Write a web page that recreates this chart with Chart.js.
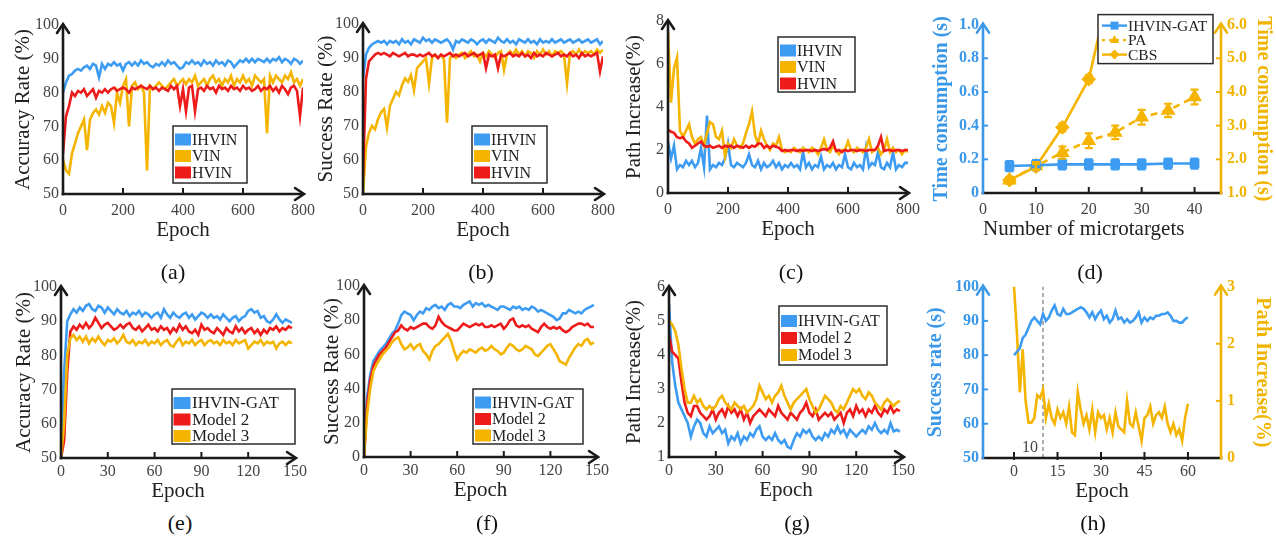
<!DOCTYPE html>
<html><head><meta charset="utf-8">
<script src="https://cdn.jsdelivr.net/npm/chart.js@4.4.1/dist/chart.umd.min.js"></script>
<style>
html,body{margin:0;padding:0;background:#fff;}
#fig{position:relative;width:1276px;height:538px;overflow:hidden;background:#fff;font-family:"Liberation Serif","Times New Roman",serif;}
#fig canvas{position:absolute;}
.cap{position:absolute;font-size:22px;color:#111;transform:translate(-50%,-50%);white-space:nowrap;z-index:5;}
</style></head><body><div id="fig">
<div class="cap" style="left:173px;top:272px">(a)</div>
<div class="cap" style="left:481px;top:272px">(b)</div>
<div class="cap" style="left:791px;top:272px">(c)</div>
<div class="cap" style="left:1090px;top:272px">(d)</div>
<div class="cap" style="left:180px;top:523px">(e)</div>
<div class="cap" style="left:487px;top:523px">(f)</div>
<div class="cap" style="left:797px;top:523px">(g)</div>
<div class="cap" style="left:1093px;top:523px">(h)</div>
</div>
<script>
// ---------------- DATA ----------------
const E800 = [0,10,20,30,40,50,60,70,80,90,
 100,110,120,130,140,150,160,170,180,190,
 200,210,220,230,240,250,260,270,280,290,
 300,310,320,330,340,350,360,370,380,390,
 400,410,420,430,440,450,460,470,480,490,
 500,510,520,530,540,550,560,570,580,590,
 600,610,620,630,640,650,660,670,680,690,
 700,710,720,730,740,750,760,770,780,790,
 800];
const A_IHVIN = [80,83,85,85.5,86.5,87,86.5,87.5,88,87,
 88.5,88,84.5,88.5,87,88.5,88,89,88,88.5,
 86.5,88.5,89,88,89,88,89.5,88.5,89,88,
 87.5,88.5,88,89,88,89.5,88.5,89,88,87,
 87.5,89,88.5,89.5,88.5,89,88,89.5,88.5,89,
 88,89.5,88.5,89,88,89.5,89,87.5,88.5,89.5,
 89,90,89,90,89,90,89.5,89,90,89,
 90,89.5,90.5,89,90,89.5,88.5,90,89.5,88.5,
 89.5];
const A_VIN = [60,57,56,62,65,68,70,72,63,72,
 74,75,73.5,76,74,77,76,71,80,77,
 82,84,70,82,83,81,82,80,57,82,
 81,82,83,82,81,82,83,84,82,83,
 84,82.5,84,83,85,82,83,84,82,84,
 85,83,84,82,84,83,85,82,84,83,
 85,83,84,82,85,84,83,84,68,85,
 83,85,84,83,85,84,86,83,84,82,
 84];
const A_HVIN = [62,73,76,80,79,80.5,80,81,79,80,
 81,78.5,80.5,80,81,80,81,81.5,80.5,81,
 81.5,81,80,81.5,81,81.5,82,81.5,81,82,
 81,81.5,80.5,81.5,81,80.5,82,81,82,76,
 81,74.5,81.5,82,74.5,81,81.5,80.5,82,81,
 81.5,80,82,81,81.5,80.5,82,81,81.5,80.5,
 82,81,81.5,80.5,81,82,80.5,81.5,81,82,
 80.5,81.5,80,82,81,79.5,81.5,82,80.5,73,
 81.5];
const B_IHVIN = [84,91,93,94,94.5,95,94.5,95,94,95,
 94.5,95,94,95.5,94.5,95,94,95.5,95,94.5,
 96,95,95.5,94.5,95.5,95,94.5,95,95.5,94.5,
 92.5,95,94.5,95.5,95,94.5,95.5,95,94,95,
 95.5,94.5,95.5,95,94.5,96,95,94.5,95.5,94.5,
 95,94,95.5,95,94.5,95.5,94.5,95,94,95.5,
 94.5,95,94.5,95.5,94.5,95,95.5,94.5,95,95.5,
 94.5,95,95.5,94.5,95,95.5,94.5,95,95.5,94,
 95];
const B_VIN = [50,64,68,70,69,72,74,75,69.5,76,
 78,80,79,82,84,83,85,80.5,87,88,
 89,90,82.5,90,91,90,91,89.5,71,90,
 91,90,91,91.5,90,91,92,90.5,91,89,
 91.5,90.5,92,91,90,91.5,92,86.5,91,92,
 91,92.5,91,92,90.5,92,91.5,90,92,91,
 92.5,91,92,90.5,92,91.5,92,91,82.5,91.5,
 92,91,92.5,91,92,91.5,92,91,92.5,91.5,
 92.5];
const B_HVIN = [55,84,89,90,91,91.5,91,91.5,91,90.5,
 91.5,91,90.5,91,91.5,90.5,91,91,90.5,91,
 90.5,91,91.5,90.5,91,90,91,90.5,91,91.5,
 90.5,91,90.5,91,91.5,90.5,91,91.5,90.5,91,
 91.5,87,91,90.5,91,87,91,90.5,91,91.5,
 90.5,91,90.5,91.5,90.5,91,90,91.5,90.5,91,
 90.5,91.5,91,90.5,91,91.5,90.5,91,90.5,91.5,
 90.5,91,90,91.5,90.5,91,90.5,91,91.5,86,
 90.5];
const C_IHVIN = [2.4,1.6,2.2,1.1,1.3,1.2,1.5,1.3,1.5,1.2,
 1.4,2.1,1.2,3.6,1.1,1.3,1.2,1.4,1.3,1.6,
 2.3,1.3,1.2,1.4,1.3,1.2,1.4,1.8,1.3,1.2,
 1.5,1.1,1.4,1.2,1.3,1.5,1.2,1.4,1.1,1.3,
 1.2,1.4,1.2,1.3,1.1,1.9,1.2,1.4,1.1,1.3,
 1.2,1.7,1.1,1.3,1.2,1.4,1.1,1.3,1.2,1.8,
 1.2,1.1,1.4,1.2,1.3,1.1,2.1,1.2,1.4,1.3,
 1.9,1.2,1.1,1.4,1.2,1.9,1.1,1.3,1.2,1.4,
 1.4];
const C_VIN = [7.5,4.2,5.8,6.3,2.9,2.6,2.9,3.2,2.6,2.3,
 2.5,2.6,2.2,2.8,3.3,3.2,2.6,2.5,2.9,1.7,
 2.3,2.1,2.5,2.2,2.1,2.3,2.8,3.2,3.8,2.7,
 2.3,2.9,2.5,2.2,2.0,2.3,2.2,2.6,2.0,1.9,
 2.0,1.9,2.1,2.0,1.9,2.1,2.0,1.9,2.1,2.0,
 1.8,2.1,2.5,2.0,1.9,2.2,2.0,1.8,2.0,2.0,
 2.4,2.0,1.9,2.1,2.0,1.9,2.1,2.5,1.9,2.0,
 2.1,1.8,2.0,2.5,1.9,2.1,1.9,2.0,1.8,2.0,
 1.9];
const C_HVIN = [2.95,2.85,2.8,2.6,2.55,2.6,2.4,2.3,2.1,2.2,
 2.3,2.4,2.2,2.15,2.2,2.1,2.15,2.2,2.1,2.2,
 2.15,2.2,2.1,2.2,2.15,2.1,2.2,2.1,2.2,2.15,
 2.3,2.3,2.1,2.2,2.1,2.2,2.15,2.1,1.95,2.0,
 1.95,2.0,2.0,1.95,2.0,1.95,2.0,2.0,1.95,2.0,
 1.95,2.0,2.05,2.0,2.1,2.4,1.95,2.0,1.9,2.0,
 1.95,2.0,2.0,1.95,2.0,2.0,1.95,2.0,2.0,2.0,
 2.2,2.6,1.95,2.0,2.0,1.95,2.0,2.0,1.95,2.0,
 2.0];

const D_X = [5,10,15,20,25,30,35,40];
const D_GAT = [0.16,0.165,0.17,0.17,0.17,0.17,0.175,0.175];
const D_GAT_ERR = [0.03,0.03,0.03,0.03,0.03,0.03,0.03,0.03];
const D_PA = [1.38,1.8,2.2,2.55,2.8,3.25,3.45,3.85];
const D_PA_ERR = [0.1,0.12,0.18,0.22,0.2,0.22,0.2,0.22];
const D_CBS = [1.38,1.78,2.95,4.38,7.8,null,null,null];
const D_CBS_ERR = [0.08,0.08,0.12,0.12,0,null,null,null];

const E150 = [0,2,4,6,8,10,12,14,16,18,
 20,22,24,26,28,30,32,34,36,38,
 40,42,44,46,48,50,52,54,56,58,
 60,62,64,66,68,70,72,74,76,78,
 80,82,84,86,88,90,92,94,96,98,
 100,102,104,106,108,110,112,114,116,118,
 120,122,124,126,128,130,132,134,136,138,
 140,142,144,146,148];
const E_GAT = [50,75,90,92,93.5,92.5,94,93,94.5,95,
 93.5,93,94.5,94,92.5,94,93,92,93.5,92.5,
 92,93,91.5,92.5,92,93,91.5,92.5,92,91,
 92,92.5,91,93.5,92,91,92.5,91.5,91,92,
 92.5,91,92,90.5,91.5,92.5,92,91,92,91,
 91.5,90.5,92,91,90,91,91.5,90,91,91.5,
 93,93.5,92.5,93,91,91.5,90,89.5,90.5,92,
 90.5,89.5,90.5,90,89.5];
const E_M2 = [50,55,75,87,88.5,87.5,89,88,89.5,88,
 89,91,89.5,88,89,89.5,88.5,87.5,88,89,
 88,89,89.5,88,87.5,88.5,87,88,89,87.5,
 88,87,88.5,87.5,88,86.5,88,87,89,87.5,
 88.5,87,86.5,87.5,86,89,87.5,88,87,86.5,
 88,87,86,88,87,86.5,88.5,87,88,86.5,
 87.5,88,86.5,87.5,86,87.5,86.5,88,87.5,88.5,
 87,88,87.5,88.5,88];
const E_M3 = [50,60,80,85,86,84.5,85.5,84,85.5,83.5,
 85,84,85.5,84,83,84.5,84,85,83.5,84.5,
 86,84,83.5,84.5,83,84,83.5,84.5,83,84,
 83.5,84.5,83,84,84.5,83,82.5,84,85,83,
 84,83.5,84.5,83,84,84.5,83,84,84.5,83.5,
 84,83,84.5,83.5,84,83,84.5,83.5,84,84.5,
 82,83,84,83.5,84.5,83,84,83.5,84,82,
 83.5,84,83,84,83.5];
const F_GAT = [0,35,48,56,59,62,64,66,69,72,
 74,78,83,85,84,83,80,83,85,84,
 87,86,88,89,87,88,86,89,90,88,
 88,87,89,90,91,88,90,89,90,88,
 89,88,87,86,88,88,87,86,88,87,
 88,86,87,86,88,87,85,86,85,84,
 83,82,80,81,84,84,86,85,84,85,
 84,86,87,88,89];
const F_M2 = [0,30,45,53,57,60,62,64,67,70,
 73,74,77,75,74,76,75,76,77,78,
 78,76,75,77,82,79,77,76,75,74,
 74,76,78,77,76,77,78,77,78,76,
 76,77,76,77,78,75,77,80,81,77,
 76,77,76,77,75,74,73,76,78,76,
 75,76,75,76,74,73,74,76,77,78,
 78,77,78,76,76];
const F_M3 = [0,25,40,50,54,57,60,62,64,67,
 69,70,66,63,64,66,63,65,66,62,
 60,57,62,65,66,68,70,72,68,62,
 57,60,62,61,63,62,61,63,64,62,
 63,65,63,62,60,61,64,66,65,63,
 62,63,65,64,63,60,59,61,63,65,
 66,63,60,56,55,54,58,61,64,66,
 65,68,69,66,67];
const G_GAT = [5.5,3.8,3.1,2.6,2.4,2.2,2.0,1.6,1.9,2.1,
 2.0,1.7,1.6,1.9,1.7,1.8,1.9,1.7,1.8,1.4,
 1.6,1.5,1.7,1.4,1.6,1.5,1.7,1.6,1.8,1.9,
 1.6,1.5,1.6,1.5,1.7,1.5,1.4,1.5,1.3,1.25,
 1.5,1.7,1.6,1.8,1.7,1.8,1.6,1.5,1.6,1.5,
 1.7,1.6,1.8,1.7,1.9,1.7,1.8,1.6,1.8,1.7,
 1.6,1.7,1.8,1.7,1.9,1.8,2.0,1.8,1.7,1.8,
 1.7,2.0,1.75,1.8,1.75];
const G_M2 = [4.6,4.1,4.0,3.9,3.2,2.6,2.3,2.2,2.5,2.5,
 2.3,2.2,2.1,2.2,2.4,2.1,2.3,2.4,2.2,2.5,
 2.3,2.4,2.2,2.4,2.1,2.3,2.0,2.2,2.3,2.4,
 2.3,2.2,2.4,2.3,2.2,2.5,2.3,2.2,2.1,2.3,
 2.2,2.1,2.3,2.4,2.6,2.3,2.2,2.4,2.1,2.2,
 2.3,2.2,2.3,2.1,2.2,2.3,2.0,2.3,2.4,2.2,
 2.5,2.3,2.4,2.2,2.4,2.3,2.5,2.3,2.2,2.4,
 2.3,2.5,2.3,2.4,2.35];
const G_M3 = [5.0,4.9,4.7,4.3,3.6,3.0,2.6,2.6,2.8,2.6,
 2.7,2.5,2.4,2.5,2.4,2.5,2.7,2.8,2.6,2.5,
 2.4,2.6,2.5,2.4,2.5,2.3,2.4,2.5,2.7,3.1,
 2.9,2.7,2.8,2.6,2.8,2.9,3.1,2.8,2.6,2.4,
 2.6,2.7,2.8,2.9,3.0,2.7,2.5,2.3,2.4,2.6,
 2.8,2.7,2.6,2.4,2.3,2.5,2.4,2.6,2.8,3.0,
 2.9,3.0,2.8,2.7,2.9,2.8,2.6,2.5,2.4,2.6,
 2.7,2.6,2.5,2.6,2.65];

const H_X = [0,1,2,3,4,5,6,7,8,9,10,11,12,13,14,15,16,17,18,19,
 20,21,22,23,24,25,26,27,28,29,30,31,32,33,34,35,36,37,38,39,
 40,41,42,43,44,45,46,47,48,49,50,51,52,53,54,55,56,57,58,59,60];
const H_SR = [80,81,82,85,86,88,90,91,90,89,
 92,90,91,93,94.5,92,91.5,93.5,92,92,
 92.5,93,93.5,94,93.5,92.5,91,92.5,90.5,92,
 93,90.5,91.5,89.5,90.5,93,90.5,91,89.5,90.5,
 89.5,90,91,92.5,89.5,91,90,91,90.5,91.5,
 91.5,92,92,92.5,91.5,90,90,89.5,89.5,90.5,
 91];
const H_PI = [3.0,2.2,1.15,1.9,1.0,0.62,0.62,0.7,1.1,1.05,
 1.2,0.7,0.95,0.7,0.6,0.85,0.7,0.8,0.6,0.9,
 0.45,0.4,1.15,0.85,0.6,0.75,0.5,0.85,0.45,0.8,
 0.7,0.75,0.5,0.7,0.45,0.8,0.55,0.5,0.45,1.0,
 0.6,0.55,0.8,0.55,0.3,0.7,0.75,0.9,0.6,0.75,
 0.8,0.7,0.9,0.6,0.45,0.6,0.4,0.5,0.3,0.7,
 0.95];
const H_MARK_X = [10,10];
const H_MARK_Y = [50,100];

// ---------------- STYLE ----------------
const BLUE = '#3d9cf2', YEL = '#f4b400', RED = '#ee1b1b';
const AXBLUE = '#3b98e8', AXYEL = '#f0b400', DARK = '#1a1a1a';
const SERIF = '"Liberation Serif","Times New Roman",serif';
Chart.defaults.font.family = SERIF;
Chart.defaults.color = '#444';

function pts(xs, ys){ return xs.map((x,i)=>({x:x, y:ys[i]})); }
function lineDs(label, xs, ys, color, extra){
  return Object.assign({label:label, data:pts(xs,ys), borderColor:color, backgroundColor:color,
    borderWidth:2.6, pointRadius:0, tension:0, fill:false, spanGaps:false}, extra||{});
}

function chevron(ctx, x, y, dir, color){
  ctx.save(); ctx.strokeStyle=color; ctx.lineWidth=2.6; ctx.lineCap='round'; ctx.lineJoin='miter';
  ctx.beginPath();
  if(dir==='up'){ ctx.moveTo(x-6,y+8); ctx.lineTo(x,y-1); ctx.lineTo(x+6,y+8); }
  else { ctx.moveTo(x-8,y-6); ctx.lineTo(x+1,y); ctx.lineTo(x-8,y+6); }
  ctx.stroke(); ctx.restore();
}
function marker(ctx, style, x, y, r, color){
  ctx.save(); ctx.fillStyle=color; ctx.beginPath();
  if(style==='rect'){ ctx.rect(x-r*0.8,y-r*0.8,r*1.6,r*1.6); }
  else if(style==='triangle'){ ctx.moveTo(x,y-r); ctx.lineTo(x+r*0.9,y+r*0.6); ctx.lineTo(x-r*0.9,y+r*0.6); ctx.closePath(); }
  else { ctx.moveTo(x,y-r); ctx.lineTo(x+r,y); ctx.lineTo(x,y+r); ctx.lineTo(x-r,y); ctx.closePath(); }
  ctx.fill(); ctx.restore();
}
function drawLegend(chart, L){
  const ctx=chart.ctx, ca=chart.chartArea;
  const x0=ca.left+L.x, y0=ca.top+L.y;
  ctx.save();
  ctx.fillStyle='#fff'; ctx.fillRect(x0,y0,L.w,L.h);
  ctx.lineWidth=1.5; ctx.strokeStyle='#2b2b2b'; ctx.strokeRect(x0,y0,L.w,L.h);
  ctx.font=L.fs+'px '+SERIF; ctx.textBaseline='middle'; ctx.textAlign='left';
  const items=chart.data.datasets.filter(d=>d.label);
  items.forEach((d,i)=>{
    const cy=y0+L.first+i*L.gap;
    if(L.lines){
      const xL=x0+L.sx, xR=x0+L.sx+L.sw;
      ctx.strokeStyle=d.borderColor; ctx.lineWidth=2.4; ctx.setLineDash(d.legendDash||d.borderDash||[]);
      ctx.beginPath(); ctx.moveTo(xL,cy); ctx.lineTo(xR,cy); ctx.stroke(); ctx.setLineDash([]);
      marker(ctx, d.pointStyle, (xL+xR)/2, cy, 5, d.borderColor);
    } else {
      ctx.fillStyle=d.borderColor; ctx.fillRect(x0+L.sx, cy-L.sh/2, L.sw, L.sh);
    }
    ctx.fillStyle='#222'; ctx.fillText(d.label, x0+L.tx, cy+1);
  });
  ctx.restore();
}

const paperPlugin = {
  id:'paper',
  afterDraw(chart){
    const o=chart.options.plugins.paper||{};
    const ctx=chart.ctx, ca=chart.chartArea;
    chart.data.datasets.forEach((ds,i)=>{
      if(!ds.errors) return;
      const meta=chart.getDatasetMeta(i);
      const ys=chart.scales[ds.yAxisID||'y'];
      ctx.save(); ctx.strokeStyle=ds.borderColor; ctx.lineWidth=2.2;
      meta.data.forEach((pt,j)=>{
        const e=ds.errors[j], v=ds.data[j].y;
        if(e==null||v==null||!e) return;
        const y1=ys.getPixelForValue(v+e), y2=ys.getPixelForValue(v-e);
        ctx.beginPath();
        ctx.moveTo(pt.x,y1); ctx.lineTo(pt.x,y2);
        ctx.moveTo(pt.x-4,y1); ctx.lineTo(pt.x+4,y1);
        ctx.moveTo(pt.x-4,y2); ctx.lineTo(pt.x+4,y2);
        ctx.stroke();
      });
      ctx.restore();
    });
    const ax=o.axes||{};
    ctx.save(); ctx.lineCap='butt';
    ctx.strokeStyle=ax.x||DARK; ctx.lineWidth=2.6;
    ctx.beginPath(); ctx.moveTo(ca.left-1.3, ca.bottom); ctx.lineTo(ca.right+(ax.right?1.3:0), ca.bottom); ctx.stroke();
    if(ax.xArrow) chevron(ctx, ca.right, ca.bottom, 'right', ax.x||DARK);
    const xs=chart.scales.x;
    ctx.lineWidth=2;
    xs.ticks.forEach(tk=>{
      if(tk.value<=xs.min||tk.value>=xs.max) return;
      const px=xs.getPixelForValue(tk.value);
      ctx.beginPath(); ctx.moveTo(px,ca.bottom+(ax.tickBelow||0)); ctx.lineTo(px,ca.bottom-6); ctx.stroke();
    });
    ctx.strokeStyle=ax.left||DARK; ctx.lineWidth=2.6;
    ctx.beginPath(); ctx.moveTo(ca.left, ca.bottom+1.3); ctx.lineTo(ca.left, ca.top); ctx.stroke();
    chevron(ctx, ca.left, ca.top, 'up', ax.left||DARK);
    if(ax.yTicks){
      const ys=chart.scales.y; ctx.lineWidth=2;
      ys.ticks.forEach(tk=>{ if(tk.value<=ys.min||tk.value>=ys.max) return;
        const py=ys.getPixelForValue(tk.value); ctx.beginPath(); ctx.moveTo(ca.left,py); ctx.lineTo(ca.left+5,py); ctx.stroke(); });
    }
    if(ax.right){
      ctx.strokeStyle=ax.right; ctx.lineWidth=2.6;
      ctx.beginPath(); ctx.moveTo(ca.right, ca.bottom+1.3); ctx.lineTo(ca.right, ca.top); ctx.stroke();
      chevron(ctx, ca.right, ca.top, 'up', ax.right);
      const ys=chart.scales.y1; ctx.lineWidth=2;
      ys.ticks.forEach(tk=>{ if(tk.value<=ys.min||tk.value>=ys.max) return;
        const py=ys.getPixelForValue(tk.value); ctx.beginPath(); ctx.moveTo(ca.right,py); ctx.lineTo(ca.right-5,py); ctx.stroke(); });
    }
    ctx.restore();
    if(o.legend) drawLegend(chart, o.legend);
    (o.notes||[]).forEach(n=>{
      const px=chart.scales.x.getPixelForValue(n.x)+n.dx;
      const py=chart.scales[n.axis].getPixelForValue(n.y);
      ctx.save(); ctx.font=n.size+'px '+SERIF; ctx.fillStyle=n.color; ctx.textAlign='center'; ctx.textBaseline='middle';
      ctx.fillText(n.text, px, py); ctx.restore();
    });
  }
};
Chart.register(paperPlugin);

const fig=document.getElementById('fig');
function yScale(c, pos, width){
  const s={ type:'linear', position:pos, min:c.min, max:c.max,
    grid:{display:false, drawTicks:false}, border:{display:false},
    ticks:{stepSize:c.step, padding:c.pad||4, font:{size:16, weight:c.bold?'bold':'normal'}, color:c.tickColor||'#444'},
    title:{display:true, text:c.title, color:c.titleColor||'#222', font:{size:c.tsize||21, weight:c.bold?'bold':'normal'}, padding:{top:c.tpad, bottom:0}},
    afterFit:(sc)=>{ sc.width=width; } };
  if(c.fmt) s.ticks.callback=c.fmt;
  return s;
}
function makePanel(p){
  const l=p.area[0], t=p.area[1], r=p.area[2], b=p.area[3];
  const top=p.row==='top';
  const leftW=60, rightW=p.y1?55:25, topPad=14, bottomH=top?53:50;
  const W=(r-l)+leftW+rightW, H=(b-t)+topPad+bottomH;
  const cv=document.createElement('canvas');
  cv.width=W; cv.height=H;
  cv.style.left=(l-leftW)+'px'; cv.style.top=(t-topPad)+'px';
  cv.style.width=W+'px'; cv.style.height=H+'px';
  fig.appendChild(cv);
  const scales={
    x:{ type:'linear', min:p.x.min, max:p.x.max,
      grid:{display:false, drawTicks:false}, border:{display:false},
      ticks:{stepSize:p.x.step, padding:top?7:4, font:{size:16}, color:'#444', maxRotation:0, autoSkip:false},
      title:{display:true, text:p.x.title, align:p.x.align||'center', color:'#222', font:{size:21}, padding:{top:0,bottom:4}},
      afterFit:(sc)=>{ sc.height=bottomH; } },
    y: yScale(p.y,'left',leftW)
  };
  if(p.x.ticks){ const tv=p.x.ticks; scales.x.afterBuildTicks=(sc)=>{ sc.ticks=tv.map(v=>({value:v})); }; }
  if(p.y1) scales.y1=yScale(p.y1,'right',rightW);
  const n=p.datasets.length;
  p.datasets.forEach((d,i)=>{ if(d.order==null) d.order=n-i; });
  new Chart(cv,{ type:'line', data:{datasets:p.datasets},
    options:{ responsive:false, animation:false, devicePixelRatio:1,
      layout:{padding:{left:0, top:topPad, right:p.y1?0:rightW, bottom:0}},
      scales:scales,
      plugins:{ legend:{display:false}, tooltip:{enabled:false},
        paper:{ axes:p.axes, legend:p.legend, notes:p.notes } } } });
}

const sqLeg=(x,y,w,h,fs)=>({x:x,y:y,w:w,h:h,fs:fs||16,first:13.5,gap:16.5,sx:2,sw:16,sh:12,tx:19});

// (a)
makePanel({ row:'top', area:[63,25,303,194],
  x:{min:0,max:800,step:200,title:'Epoch'},
  y:{min:50,max:100,step:10,title:'Accuracy Rate (%)',tpad:8},
  axes:{xArrow:true},
  legend:sqLeg(110,101,74,57),
  datasets:[lineDs('IHVIN',E800,A_IHVIN,BLUE), lineDs('VIN',E800,A_VIN,YEL), lineDs('HVIN',E800,A_HVIN,RED)] });
// (b)
makePanel({ row:'top', area:[363,24,603,194],
  x:{min:0,max:800,step:200,title:'Epoch'},
  y:{min:50,max:100,step:10,title:'Success Rate (%)',tpad:11},
  axes:{xArrow:true},
  legend:sqLeg(109,102,75,57),
  datasets:[lineDs('IHVIN',E800,B_IHVIN,BLUE), lineDs('VIN',E800,B_VIN,YEL), lineDs('HVIN',E800,B_HVIN,RED)] });
// (c)
makePanel({ row:'top', area:[668,21,908,193],
  x:{min:0,max:800,step:200,title:'Epoch'},
  y:{min:0,max:8,step:2,title:'Path Increase(%)',tpad:14},
  axes:{xArrow:true},
  legend:sqLeg(110,16,77,55),
  datasets:[lineDs('IHVIN',E800,C_IHVIN,BLUE), lineDs('VIN',E800,C_VIN,YEL), lineDs('HVIN',E800,C_HVIN,RED)] });
// (d)
makePanel({ row:'top', area:[983,23,1221,193],
  x:{min:0,max:45,title:'Number of microtargets',align:'start',ticks:[0,10,20,30,40]},
  y:{min:0,max:1,step:0.2,title:'Time consumption (s)',tpad:7,bold:true,tsize:20,tickColor:AXBLUE,titleColor:AXBLUE,fmt:v=>v===0?'0':v.toFixed(1)},
  y1:{min:1,max:6,step:1,title:'Time consumption (s)',tpad:1,bold:true,tsize:20,tickColor:AXYEL,titleColor:AXYEL,pad:6,fmt:v=>v.toFixed(1)},
  axes:{left:AXBLUE,right:AXYEL,yTicks:true},
  legend:{x:115,y:-10,w:115,h:49,fs:15.5,first:11,gap:14.5,lines:true,sx:4,sw:25,tx:30},
  datasets:[
    lineDs('IHVIN-GAT',D_X,D_GAT,BLUE,{yAxisID:'y',pointStyle:'rect',pointRadius:5,errors:D_GAT_ERR,order:1}),
    lineDs('PA',D_X,D_PA,YEL,{yAxisID:'y1',pointStyle:'triangle',pointRadius:6,borderDash:[7,5],legendDash:[3,4],errors:D_PA_ERR,order:3}),
    lineDs('CBS',D_X,D_CBS,YEL,{yAxisID:'y1',pointStyle:'rectRot',pointRadius:5.5,errors:D_CBS_ERR,order:2})
  ] });
// (e)
makePanel({ area:[61,287,295,458],
  x:{min:0,max:150,step:30,title:'Epoch'},
  y:{min:50,max:100,step:10,title:'Accuracy Rate (%)',tpad:11},
  axes:{xArrow:true},
  legend:{x:111,y:102,w:123,h:55,fs:17,first:14,gap:16.5,sx:1.5,sw:17,sh:12,tx:20},
  datasets:[lineDs('IHVIN-GAT',E150,E_GAT,BLUE), lineDs('Model 2',E150,E_M2,RED), lineDs('Model 3',E150,E_M3,YEL)] });
// (f)
makePanel({ area:[364,286,597,457],
  x:{min:0,max:150,step:30,title:'Epoch'},
  y:{min:0,max:100,step:20,title:'Success Rate (%)',tpad:16},
  axes:{xArrow:true},
  legend:sqLeg(109,103,110,55),
  datasets:[lineDs('IHVIN-GAT',E150,F_GAT,BLUE), lineDs('Model 2',E150,F_M2,RED), lineDs('Model 3',E150,F_M3,YEL)] });
// (g)
makePanel({ area:[669,287,903,457],
  x:{min:0,max:150,step:30,title:'Epoch'},
  y:{min:1,max:6,step:1,title:'Path Increase(%)',tpad:13},
  axes:{xArrow:true},
  legend:{x:110,y:19,w:108,h:59,fs:16,first:15,gap:17,sx:2,sw:16,sh:12,tx:19},
  datasets:[lineDs('IHVIN-GAT',E150,G_GAT,BLUE), lineDs('Model 2',E150,G_M2,RED), lineDs('Model 3',E150,G_M3,YEL)] });
// (h)
makePanel({ area:[983,285,1221,458],
  x:{min:-10.7,max:71.4,title:'Epoch',ticks:[0,15,30,45,60]},
  y:{min:50,max:100,step:10,title:'Success rate (s)',tpad:1,bold:true,tsize:20,tickColor:AXBLUE,titleColor:AXBLUE},
  y1:{min:0,max:3,step:1,title:'Path Increase(%)',tpad:2,bold:true,tsize:20,tickColor:AXYEL,titleColor:AXYEL,pad:6},
  axes:{left:AXBLUE,right:AXYEL,yTicks:true,tickBelow:2},
  notes:[{text:'10',x:10,dx:-13,y:53,axis:'y',size:16,color:'#444'}],
  datasets:[
    lineDs('',H_MARK_X,H_MARK_Y,'#777',{yAxisID:'y',borderWidth:1.2,borderDash:[4,3],order:3}),
    lineDs('Success rate',H_X,H_SR,BLUE,{yAxisID:'y',order:1}),
    lineDs('Path increase',H_X,H_PI,YEL,{yAxisID:'y1',order:2})
  ] });
</script></body></html>
